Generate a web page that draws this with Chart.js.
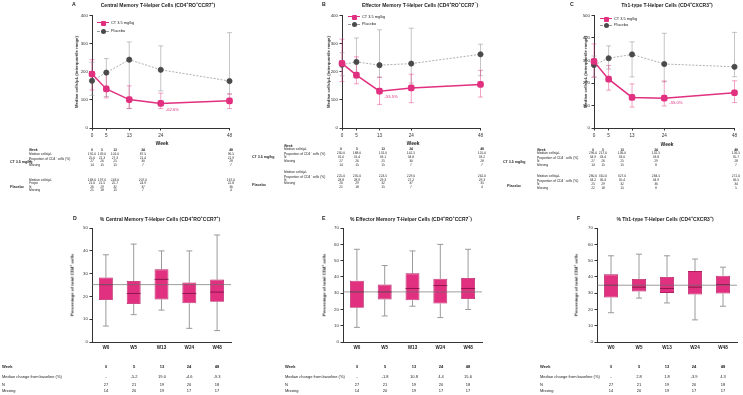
<!DOCTYPE html>
<html>
<head>
<meta charset="utf-8">
<script src="https://cdn.jsdelivr.net/npm/chart.js@4.4.1/dist/chart.umd.min.js"></script>
<style>
  body { margin:0; width:743px; height:395px; background:#fff; position:relative; overflow:hidden;
         font-family:"Liberation Sans", Arial, sans-serif; color:#222; }
  .abs { position:absolute; white-space:nowrap; line-height:1; will-change:transform; }
  canvas { position:absolute; }
  sup { font-size:70%; vertical-align:super; line-height:0; }
</style>
</head>
<body>
<script>
// ---------- DATA ----------
const weeks = [0, 5, 13, 24, 48];

// A: central memory (cells/uL), median + IQR
const ctA = [192, 139, 101, 87.5, 96.5];
const ctA_lo = [135, 107, 69, 69, 69];
const ctA_hi = [243, 192, 150, 124, 121];
const plA = [168, 197, 243, 207, 167];
const plA_lo = [116, 112, 70, 132, 121];
const plA_hi = [234, 247, 306, 292, 339];
const ctA_prop = [25.0, 21.3, 27.3, 21.4, 21.9];
const ctA_n = [27, 26, 25, 30, 28];
const ctA_miss = [14, 15, 15, 7, 7];
const plA_prop = [21.6, 21.5, 25.7, 24.9, 22.8];
const plA_n = [26, 29, 32, 37, 36];
const plA_miss = [21, 18, 15, 7, 4];

// B: effector memory
const ctB = [230, 188, 131, 142.5, 155];
const ctB_lo = [165, 157, 84, 90, 110];
const ctB_hi = [316, 253, 181, 191, 205];
const plB = [225, 235, 223.5, 229, 262];
const plB_lo = [186, 178, 180, 160, 186];
const plB_hi = [268, 320, 349, 355, 298];
const ctB_prop = [31.0, 31.4, 33.1, 34.8, 33.2];
const ctB_n = [27, 26, 25, 30, 28];
const ctB_miss = [14, 15, 15, 7, 7];
const plB_prop = [28.8, 28.9, 29.3, 27.2, 29.3];
const plB_n = [26, 29, 32, 37, 35];
const plB_miss = [21, 18, 15, 7, 4];

// C: Th1-type
const ctC = [296, 217, 136, 132.5, 156.5];
const ctC_lo = [227, 168, 93, 98, 113];
const ctC_hi = [374, 278, 196, 209, 210];
const plC = [280, 310, 327, 284.5, 272];
const plC_lo = [225, 262, 227, 205, 228];
const plC_hi = [320, 365, 383, 421, 425];
const ctC_prop = [34.9, 33.4, 33.0, 33.8, 35.7];
const ctC_n = [27, 26, 25, 29, 28];
const ctC_miss = [14, 15, 15, 8, 7];
const plC_prop = [34.2, 36.4, 35.4, 34.9, 36.5];
const plC_n = [25, 29, 32, 36, 34];
const plC_miss = [22, 18, 15, 8, 5];

// D/E/F: % of CD4+ cells, box plots
const boxLabels = ["W0", "W5", "W13", "W24", "W48"];
const dMin = [7, 12, 14, 6, 5];
const dQ1 = [18.4, 16.7, 18.7, 17, 17.7];
const dMed = [25.2, 21.3, 27.5, 21.3, 21.9];
const dQ3 = [28.3, 26.8, 31.9, 26.1, 27.4];
const dMax = [38.3, 43, 40, 40, 47];
const dBase = 25.2;
const eMin = [9, 16, 22, 15, 20];
const eQ1 = [21.1, 26.2, 25.6, 23.7, 26.4];
const eMed = [30.8, 30.8, 32.9, 34.7, 32.9];
const eQ3 = [37.7, 35.3, 42.2, 38.9, 39.4];
const eMax = [57, 47, 56, 60, 57];
const eBase = 30.8;
const fMin = [18, 27, 24, 13.6, 22];
const fQ1 = [27.4, 31.0, 30.2, 29.2, 29.8];
const fMed = [34.9, 33.7, 32.9, 33.7, 35.3];
const fQ3 = [41.6, 38.7, 40, 43.6, 40.8];
const fMax = [53, 54, 53, 51, 46];
const fBase = 34.9;
const dChange = ["-", "-5.2", "19.0", "-4.6", "-9.3"];
const eChange = ["-", "-1.8", "10.8", "4.4", "15.6"];
const fChange = ["-", "2.8", "1.8", "-3.9", "4.3"];
const boxN = [27, 21, 19, 20, 18];
const boxMiss = [14, 20, 19, 17, 17];

// ---------- STYLE ----------
const PINK = "#e0307f", PINK_BAR = "rgba(224,48,127,0.45)", BOX_EDGE = "#b51d62", MED_LINE = "#7a1040";
const GREY_PT = "#4a4a4a", GREY_LINE = "#9a9a9a", GREY_BAR = "rgba(150,150,150,0.55)";
const FONT = "Liberation Sans";
const YW = 22, XH = 14, PT = 3, PR = 4;

function add(html) { document.body.insertAdjacentHTML("beforeend", html); }
function text(s, x, y, size, opt = {}) {
  const tx = opt.align === "c" ? "-50%" : opt.align === "r" ? "-100%" : "0";
  const rot = opt.rot ? " rotate(-90deg)" : "";
  add(`<div class="abs" style="left:${x}px;top:${y}px;font-size:${size}px;font-weight:${opt.bold ? "bold" : "normal"};color:${opt.color || "#222"};transform:translate(${opt.rot ? "-50%" : tx},-50%)${rot}">${s}</div>`);
}
function makeCanvas(L, T, R, B) {
  const c = document.createElement("canvas");
  const w = YW + (R - L) + PR, h = PT + (B - T) + XH;
  c.width = w; c.height = h;
  c.style.left = (L - YW) + "px"; c.style.top = (T - PT) + "px";
  c.style.width = w + "px"; c.style.height = h + "px";
  document.body.appendChild(c);
  return c;
}

// error bars behind the lines, from the lo/hi arrays
const errBars = {
  id: "errBars",
  beforeDatasetsDraw(chart) {
    const { ctx, scales: { x, y } } = chart;
    [...chart.data.datasets].reverse().forEach(ds => {
      ctx.save(); ctx.strokeStyle = ds.barColor; ctx.lineWidth = 1;
      ds.data.forEach((p, i) => {
        const px = x.getPixelForValue(p.x), y1 = y.getPixelForValue(ds.lo[i]), y2 = y.getPixelForValue(ds.hi[i]);
        ctx.beginPath();
        ctx.moveTo(px, y1); ctx.lineTo(px, y2);
        ctx.moveTo(px - 2.5, y1); ctx.lineTo(px + 2.5, y1);
        ctx.moveTo(px - 2.5, y2); ctx.lineTo(px + 2.5, y2);
        ctx.stroke();
      });
      ctx.restore();
    });
  },
  afterDatasetsDraw(chart, args, o) {
    const { ctx, scales: { x, y } } = chart;
    ctx.save(); ctx.fillStyle = PINK; ctx.font = `4.2px "${FONT}"`; ctx.textBaseline = "middle";
    ctx.fillText(o.text, x.getPixelForValue(o.x) + o.dx, y.getPixelForValue(o.y) + o.dy);
    ctx.restore();
  }
};

const axisBase = {
  border: { display: true, color: "#333", width: 1 },
  grid: { drawOnChartArea: false, tickLength: 2.5, color: "#333" },
};

function lineChart(L, T, R, B, yMax, ct, ctLo, ctHi, pl, plLo, plHi, note) {
  const c = makeCanvas(L, T, R, B);
  new Chart(c, {
    type: "line",
    data: { datasets: [
      { data: ct.map((v, i) => ({ x: weeks[i], y: v })), lo: ctLo, hi: ctHi, barColor: PINK_BAR,
        borderColor: PINK, backgroundColor: PINK, borderWidth: 1.5, pointStyle: "rectRounded", pointRadius: 3, clip: false },
      { data: pl.map((v, i) => ({ x: weeks[i], y: v })), lo: plLo, hi: plHi, barColor: GREY_BAR,
        borderColor: GREY_LINE, backgroundColor: GREY_PT, borderWidth: 0.8, borderDash: [2, 1.5],
        pointBorderColor: GREY_PT, pointRadius: 2.6, clip: false }
    ]},
    options: {
      responsive: false, animation: false, devicePixelRatio: 1,
      layout: { padding: { left: 0, top: PT, right: PR, bottom: 0 } },
      plugins: { legend: { display: false }, tooltip: { enabled: false }, errBars: note },
      scales: {
        x: { ...axisBase, type: "linear", min: 0, max: 48,
             afterBuildTicks: s => { s.ticks = weeks.map(v => ({ value: v })); },
             afterFit: s => { s.height = XH; },
             ticks: { autoSkip: false, color: "#333", font: { family: FONT, size: 4.6 }, padding: 2 } },
        y: { ...axisBase, min: 0, max: yMax,
             afterFit: s => { s.width = YW; },
             ticks: { stepSize: 100, color: "#333", font: { family: FONT, size: 4.4 }, padding: 1.5 } }
      }
    },
    plugins: [errBars]
  });
}

// whiskers, medians and baseline reference line
const boxParts = {
  id: "boxParts",
  beforeDatasetsDraw(chart, args, o) {
    const { ctx, scales: { x, y } } = chart;
    ctx.save(); ctx.strokeStyle = "#9a9a9a"; ctx.lineWidth = 1;
    o.min.forEach((v, i) => {
      const px = x.getPixelForValue(i);
      [[o.min[i], o.q1[i]], [o.q3[i], o.max[i]]].forEach(([a, b]) => {
        ctx.beginPath(); ctx.moveTo(px, y.getPixelForValue(a)); ctx.lineTo(px, y.getPixelForValue(b)); ctx.stroke();
      });
      [o.min[i], o.max[i]].forEach(v2 => {
        const py = y.getPixelForValue(v2);
        ctx.beginPath(); ctx.moveTo(px - 3, py); ctx.lineTo(px + 3, py); ctx.stroke();
      });
    });
    ctx.restore();
  },
  afterDatasetsDraw(chart, args, o) {
    const { ctx, chartArea, scales: { x, y } } = chart;
    const meta = chart.getDatasetMeta(0);
    ctx.save(); ctx.strokeStyle = MED_LINE; ctx.lineWidth = 0.8;
    o.med.forEach((v, i) => {
      const bar = meta.data[i], py = y.getPixelForValue(v);
      ctx.beginPath(); ctx.moveTo(bar.x - bar.width / 2, py); ctx.lineTo(bar.x + bar.width / 2, py); ctx.stroke();
    });
    ctx.strokeStyle = "rgba(110,110,110,0.85)"; ctx.lineWidth = 0.8;
    const by = y.getPixelForValue(o.base);
    ctx.beginPath(); ctx.moveTo(chartArea.left, by); ctx.lineTo(chartArea.right, by); ctx.stroke();
    ctx.restore();
  }
};

function boxChart(L, T, R, B, yMax, mn, q1, med, q3, mx, base) {
  const c = makeCanvas(L, T, R, B);
  new Chart(c, {
    type: "bar",
    data: { labels: boxLabels, datasets: [{
      data: q1.map((v, i) => [v, q3[i]]), backgroundColor: PINK, borderColor: BOX_EDGE, borderWidth: 0.8,
      borderSkipped: false, barPercentage: 0.5, categoryPercentage: 1 }] },
    options: {
      responsive: false, animation: false, devicePixelRatio: 1,
      layout: { padding: { left: 0, top: PT, right: PR, bottom: 0 } },
      plugins: { legend: { display: false }, tooltip: { enabled: false },
                 boxParts: { min: mn, q1, med, q3, max: mx, base } },
      scales: {
        x: { border: { display: true, color: "#333", width: 1 }, grid: { display: false, drawTicks: false, tickLength: 0 },
             afterFit: s => { s.height = XH; },
             ticks: { color: "#222", font: { family: FONT, size: 4.6, weight: "bold" }, padding: 3 } },
        y: { ...axisBase, min: 0, max: yMax, afterFit: s => { s.width = YW; },
             ticks: { stepSize: 10, color: "#333", font: { family: FONT, size: 4.4 }, padding: 1.5 } }
      }
    },
    plugins: [boxParts]
  });
}

// ---------- CHARTS ----------
lineChart(92, 13, 231, 128, 400, ctA, ctA_lo, ctA_hi, plA, plA_lo, plA_hi, { x: 24, y: 87.5, text: "-62.6%", dx: 5, dy: 6 });
lineChart(342, 13, 482, 128, 400, ctB, ctB_lo, ctB_hi, plB, plB_lo, plB_hi, { x: 13, y: 131, text: "-53.5%", dx: 5, dy: 6 });
lineChart(594, 13, 736, 128, 500, ctC, ctC_lo, ctC_hi, plC, plC_lo, plC_hi, { x: 24, y: 132.5, text: "-55.0%", dx: 5, dy: 5 });
boxChart(92, 227, 231, 342, 50, dMin, dQ1, dMed, dQ3, dMax, dBase);
boxChart(343, 227, 482, 342, 70, eMin, eQ1, eMed, eQ3, eMax, eBase);
boxChart(597, 227, 737, 342, 70, fMin, fQ1, fMed, fQ3, fMax, fBase);

// ---------- TITLES, LEGENDS, AXIS TITLES ----------
const cm = "(CD4<sup>+</sup>RO<sup>+</sup>CCR7<sup>+</sup>)", em = "(CD4<sup>+</sup>RO<sup>+</sup>CCR7<sup>&minus;</sup>)", th = "(CD4<sup>+</sup>CXCR3<sup>+</sup>)";
text("A", 72, 5, 5.2, { bold: true });
text("Central Memory T-Helper Cells " + cm, 158, 5, 5, { bold: true, align: "c" });
text("B", 322, 5, 5.2, { bold: true });
text("Effector Memory T-Helper Cells " + em, 420, 5, 5, { bold: true, align: "c" });
text("C", 570, 5, 5.2, { bold: true });
text("Th1-type T-Helper Cells " + th, 667, 5, 5, { bold: true, align: "c" });
text("D", 73, 219, 5.2, { bold: true });
text("% Central Memory T-Helper Cells " + cm, 160, 219, 5, { bold: true, align: "c" });
text("E", 322, 219, 5.2, { bold: true });
text("% Effector Memory T-Helper Cells " + em, 411, 219, 5, { bold: true, align: "c" });
text("F", 577, 219, 5.2, { bold: true });
text("% Th1-type T-Helper Cells " + th, 665, 219, 5, { bold: true, align: "c" });

[[77, 72], [329, 72], [586, 72]].forEach(([x, y]) => text("Median cells/μL (interquartile range)", x, y, 4.2, { bold: true, rot: true }));
[[73, 285], [325, 285], [577, 285]].forEach(([x, y]) => text("Percentage of total CD4<sup>+</sup> cells", x, y, 4.4, { bold: true, rot: true }));
[[162, 143], [413, 143], [667, 144]].forEach(([x, y]) => text("Week", x, y, 5, { bold: true, align: "c" }));

function legend(x, y1, y2) {
  add(`<div class="abs" style="left:${x - 6}px;top:${y1 - 0.7}px;width:12px;height:1.4px;background:${PINK}"></div>`);
  add(`<div class="abs" style="left:${x - 2.5}px;top:${y1 - 2.5}px;width:5px;height:5px;border-radius:1px;background:${PINK}"></div>`);
  add(`<div class="abs" style="left:${x - 6}px;top:${y2 - 0.4}px;width:12px;height:0;border-top:0.8px dashed ${GREY_LINE}"></div>`);
  add(`<div class="abs" style="left:${x - 2.5}px;top:${y2 - 2.5}px;width:5px;height:5px;border-radius:50%;background:${GREY_PT}"></div>`);
  text("CT 3.5 mg/kg", x + 8, y1, 3.9);
  text("Placebo", x + 8, y2, 3.9);
}
legend(103, 23, 31);
legend(354, 17, 24);
legend(606, 19, 25);

// ---------- TABLES ----------
const f1 = a => a.map(v => v.toFixed(1));
function rowVals(vals, cols, y, size, bold) {
  vals.forEach((v, i) => text(String(v), cols[i], y, size, { align: "c", bold }));
}
const TS = 3.3;
function topTable(lx, cols, labels, values) {
  labels.forEach(([s, y, b]) => text(s, lx, y, TS, { bold: b }));
  values.forEach(([arr, y, b]) => rowVals(arr, cols, y, TS, b));
}
const P = "Proportion of CD4<sup>+</sup> cells (%)", M = "Median cells/μL";

// A
const colA = [92, 102, 115, 143, 231];
text("CT 3.5 mg/kg", 10, 163, 3.6, { bold: true });
text("Placebo", 10, 188, 3.6, { bold: true });
topTable(29, colA,
  [["Week", 151.3, true], [M, 154.8], [P, 158.5], ["N", 162.3], ["Missing", 166.2],
   [M, 180.5], ["Propo", 184], ["N", 187.6], ["Missing", 191.3]],
  [[weeks, 151.3, true], [f1(ctA), 154.8], [f1(ctA_prop), 158.5], [ctA_n, 162.3], [ctA_miss, 166.2],
   [f1(plA), 180.5], [f1(plA_prop), 184], [plA_n, 187.6], [plA_miss, 191.3]]);

// B (values sit one row below their labels)
const colB = [341, 357, 383, 411, 482];
text("CT 3.5 mg/kg", 252, 158, 3.6, { bold: true });
text("Placebo", 252, 186, 3.6, { bold: true });
topTable(284, colB,
  [["Week", 146.7, true], [M, 150], [P, 153.7], ["N", 157.7], ["Missing", 161.7],
   [M, 173.3], [P, 176.9], ["N", 180.6], ["Missing", 184.3]],
  [[weeks, 150, true], [f1(ctB), 153.7], [f1(ctB_prop), 157.7], [ctB_n, 161.7], [ctB_miss, 165.7],
   [f1(plB), 176.9], [f1(plB_prop), 180.6], [plB_n, 184.3], [plB_miss, 188.2]]);

// C
const colC = [593, 603, 622, 656, 736];
text("CT 3.5 mg/kg", 503, 163, 3.6, { bold: true });
text("Placebo", 507, 187, 3.6, { bold: true });
topTable(537, colC,
  [["Week", 150.7, true], [M, 154.2], [P, 157.8], ["N", 161.7], ["Missing", 165.6],
   [M, 177.3], [P, 181], ["N", 185], ["Missing", 189]],
  [[weeks, 150.7, true], [f1(ctC), 154.2], [f1(ctC_prop), 157.8], [ctC_n, 161.7], [ctC_miss, 165.6],
   [f1(plC), 177.3], [f1(plC_prop), 181], [plC_n, 185], [plC_miss, 189]]);

// D/E/F
function boxTable(lx, cols, change) {
  const BS = 4;
  text("Week", lx, 367.3, BS, { bold: true });
  text("Median change from baseline (%)", lx, 376.7, BS);
  text("N", lx, 385, BS);
  text("Missing", lx, 391, BS);
  rowVals(weeks, cols, 367.3, BS, true);
  rowVals(change, cols, 376.7, BS);
  rowVals(boxN, cols, 385, BS);
  rowVals(boxMiss, cols, 391, BS);
}
boxTable(2, [106, 134, 162, 189, 217], dChange);
boxTable(285, [357, 385, 414, 441, 468], eChange);
boxTable(540, [611, 639, 667, 694, 723], fChange);
</script>
</body>
</html>
